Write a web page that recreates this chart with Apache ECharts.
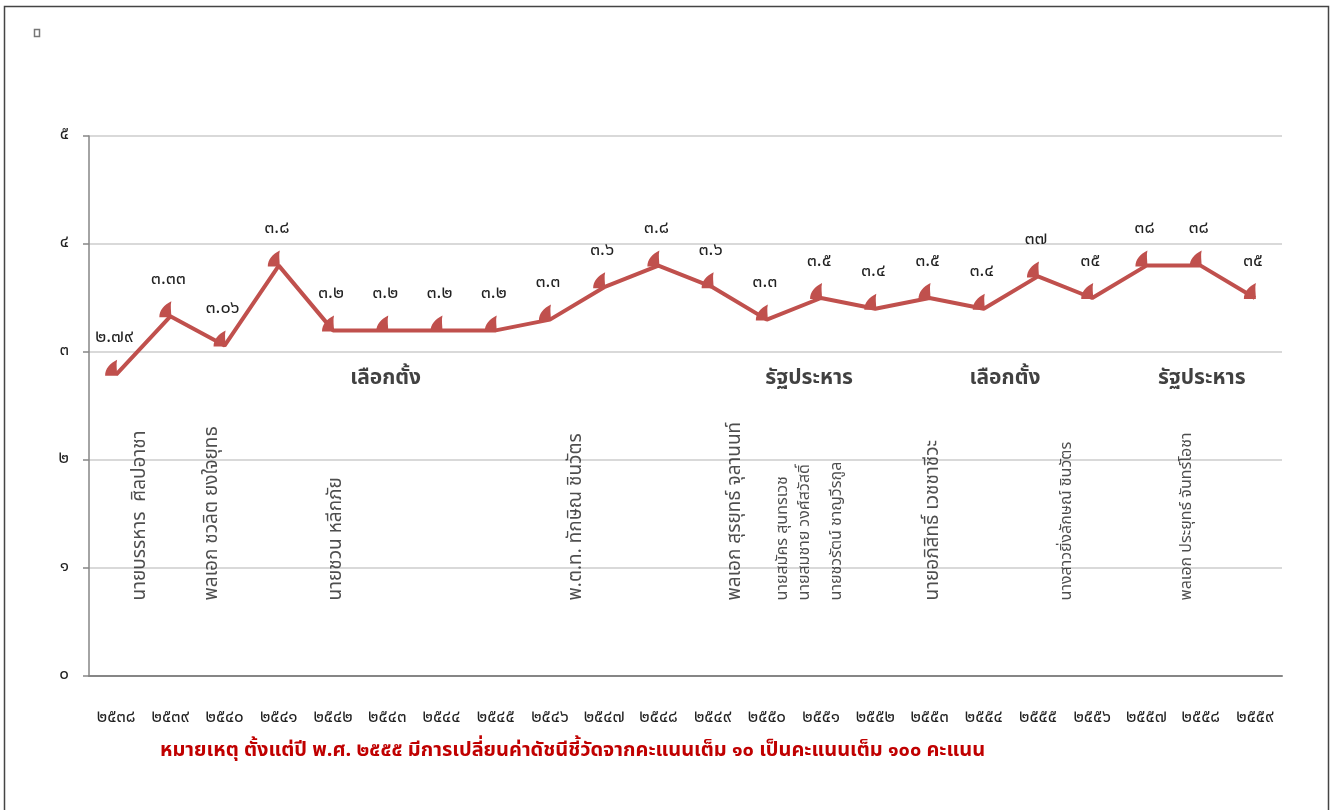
<!DOCTYPE html>
<html>
<head>
<meta charset="utf-8">
<script src="https://cdn.jsdelivr.net/npm/echarts@6/dist/echarts.min.js"></script>
<style>
html, body { margin: 0; padding: 0; background: #fff; }
#chart { width: 1335px; height: 810px; }
</style>
</head>
<body>
<div id="chart"></div>
<script>
// ปี พ.ศ.
const years = ['๒๕๓๘', '๒๕๓๙', '๒๕๔๐', '๒๕๔๑', '๒๕๔๒', '๒๕๔๓', '๒๕๔๔', '๒๕๔๕', '๒๕๔๖', '๒๕๔๗', '๒๕๔๘',
    '๒๕๔๙', '๒๕๕๐', '๒๕๕๑', '๒๕๕๒', '๒๕๕๓', '๒๕๕๔', '๒๕๕๕', '๒๕๕๖', '๒๕๕๗', '๒๕๕๘', '๒๕๕๙'];
// ค่าดัชนี
const scores = [2.79, 3.33, 3.06, 3.8, 3.2, 3.2, 3.2, 3.2, 3.3, 3.6, 3.8, 3.6, 3.3, 3.5, 3.4, 3.5, 3.4, 3.7, 3.5, 3.8, 3.8, 3.5];
// ป้ายค่าตามภาพ
const scoreLabels = ['๒.๗๙', '๓.๓๓', '๓.๐๖', '๓.๘', '๓.๒', '๓.๒', '๓.๒', '๓.๒', '๓.๓', '๓.๖', '๓.๘',
    '๓.๖', '๓.๓', '๓.๕', '๓.๔', '๓.๕', '๓.๔', '๓๗', '๓๕', '๓๘', '๓๘', '๓๕'];
const yTickLabels = ['๐', '๑', '๒', '๓', '๔', '๕'];

// นายกรัฐมนตรี (ตำแหน่งเป็นลำดับปีบนแกน)
const pmNames = ['นายบรรหาร  ศิลปอาชา', 'พลเอก ชวลิต ยงใจยุทธ', 'นายชวน หลีกภัย', 'พ.ต.ท. ทักษิณ ชินวัตร',
    'พลเอก สุรยุทธ์ จุลานนท์', 'นายสมัคร สุนทรเวช', 'นายสมชาย วงศ์สวัสดิ์', 'นายชวรัตน์ ชาญวีรกูล',
    'นายอภิสิทธิ์ เวชชาชีวะ', 'นางสาวยิ่งลักษณ์ ชินวัตร', 'พลเอก ประยุทธ์ จันทร์โอชา'];
const pmAt = [0.46, 1.79, 4.07, 8.5, 11.43, 12.32, 12.72, 13.31, 15.08, 17.55, 19.77];

// เหตุการณ์
const events = ['เลือกตั้ง', 'รัฐประหาร', 'เลือกตั้ง', 'รัฐประหาร'];
const eventAt = [4.97, 12.78, 16.39, 20.02];

const note = 'หมายเหตุ ตั้งแต่ปี พ.ศ. ๒๕๕๕ มีการเปลี่ยนค่าดัชนีชี้วัดจากคะแนนเต็ม ๑๐ เป็นคะแนนเต็ม ๑๐๐ คะแนน';

const font = '"Noto Sans Thai", "Noto Sans", "DejaVu Sans", sans-serif';
// ชื่อที่ตัวเล็กกว่าในภาพ
const smallNames = [5, 6, 7, 9, 10];

let option = {
    animation: false,
    textStyle: { fontFamily: font },
    grid: { left: 89, right: 53, top: 136, bottom: 134 },
    xAxis: [
        {
            type: 'category',
            data: years,
            axisLine: { lineStyle: { color: '#868686', width: 2 } },
            axisTick: { length: 8, lineStyle: { color: '#868686', width: 1.5 } },
            axisLabel: { color: '#222', fontSize: 17, margin: 34, interval: 0 }
        },
        {
            // แกนซ่อนสำหรับวางข้อความระหว่างปี
            type: 'value',
            min: -0.5,
            max: years.length - 0.5,
            show: false
        }
    ],
    yAxis: {
        type: 'value',
        min: 0,
        max: 5,
        interval: 1,
        axisLine: { show: true, onZero: false, lineStyle: { color: '#868686', width: 1.5 } },
        axisTick: { show: true, length: 6, lineStyle: { color: '#868686', width: 1.5 } },
        axisLabel: {
            color: '#222', fontSize: 17, margin: 20,
            formatter: v => yTickLabels[v]
        },
        splitLine: { lineStyle: { color: '#d9d9d9', width: 2 } }
    },
    series: [
        {
            type: 'line',
            data: scores,
            lineStyle: { color: '#c0504d', width: 4 },
            itemStyle: { color: '#c0504d' },
            symbol: 'path://M10,0 C9,4 10,9 10,14 L0,14 C0,8 4,3 10,0 Z',
            symbolSize: [12, 16],
            symbolOffset: [-5, -7],
            showAllSymbol: true,
            label: {
                show: true,
                position: 'top',
                distance: 12,
                offset: [3, 0],
                color: '#222',
                fontSize: 18,
                formatter: p => scoreLabels[p.dataIndex]
            }
        },
        {
            type: 'scatter',
            xAxisIndex: 1,
            symbolSize: 0,
            silent: true,
            data: pmAt.map(x => [x, 0.7]),
            label: {
                show: true,
                position: 'inside',
                rotate: 90,
                align: 'left',
                verticalAlign: 'middle',
                color: '#222',
                fontSize: 19,
                formatter: p => pmNames[p.dataIndex]
            },
            labelLayout: p => ({ fontSize: smallNames.includes(p.dataIndex) ? 16 : 19 })
        },
        {
            type: 'scatter',
            xAxisIndex: 1,
            symbolSize: 0,
            silent: true,
            data: eventAt.map(x => [x, 2.74]),
            label: {
                show: true,
                position: 'inside',
                color: '#111',
                fontSize: 21,
                fontWeight: 'bold',
                formatter: p => events[p.dataIndex]
            }
        }
    ],
    graphic: [
        {
            type: 'rect',
            shape: { x: 4.5, y: 6.5, width: 1324, height: 820 },
            style: { fill: 'none', stroke: '#444', lineWidth: 1.5 }
        },
        {
            type: 'rect',
            shape: { x: 34.5, y: 29.5, width: 5, height: 7 },
            style: { fill: 'none', stroke: '#777', lineWidth: 1.5 }
        },
        {
            type: 'text',
            left: 160,
            top: 742,
            style: { text: note, fill: '#c00000', font: 'bold 20px ' + font }
        }
    ]
};

let chart = echarts.init(document.getElementById('chart'));
chart.setOption(option);
</script>
</body>
</html>
